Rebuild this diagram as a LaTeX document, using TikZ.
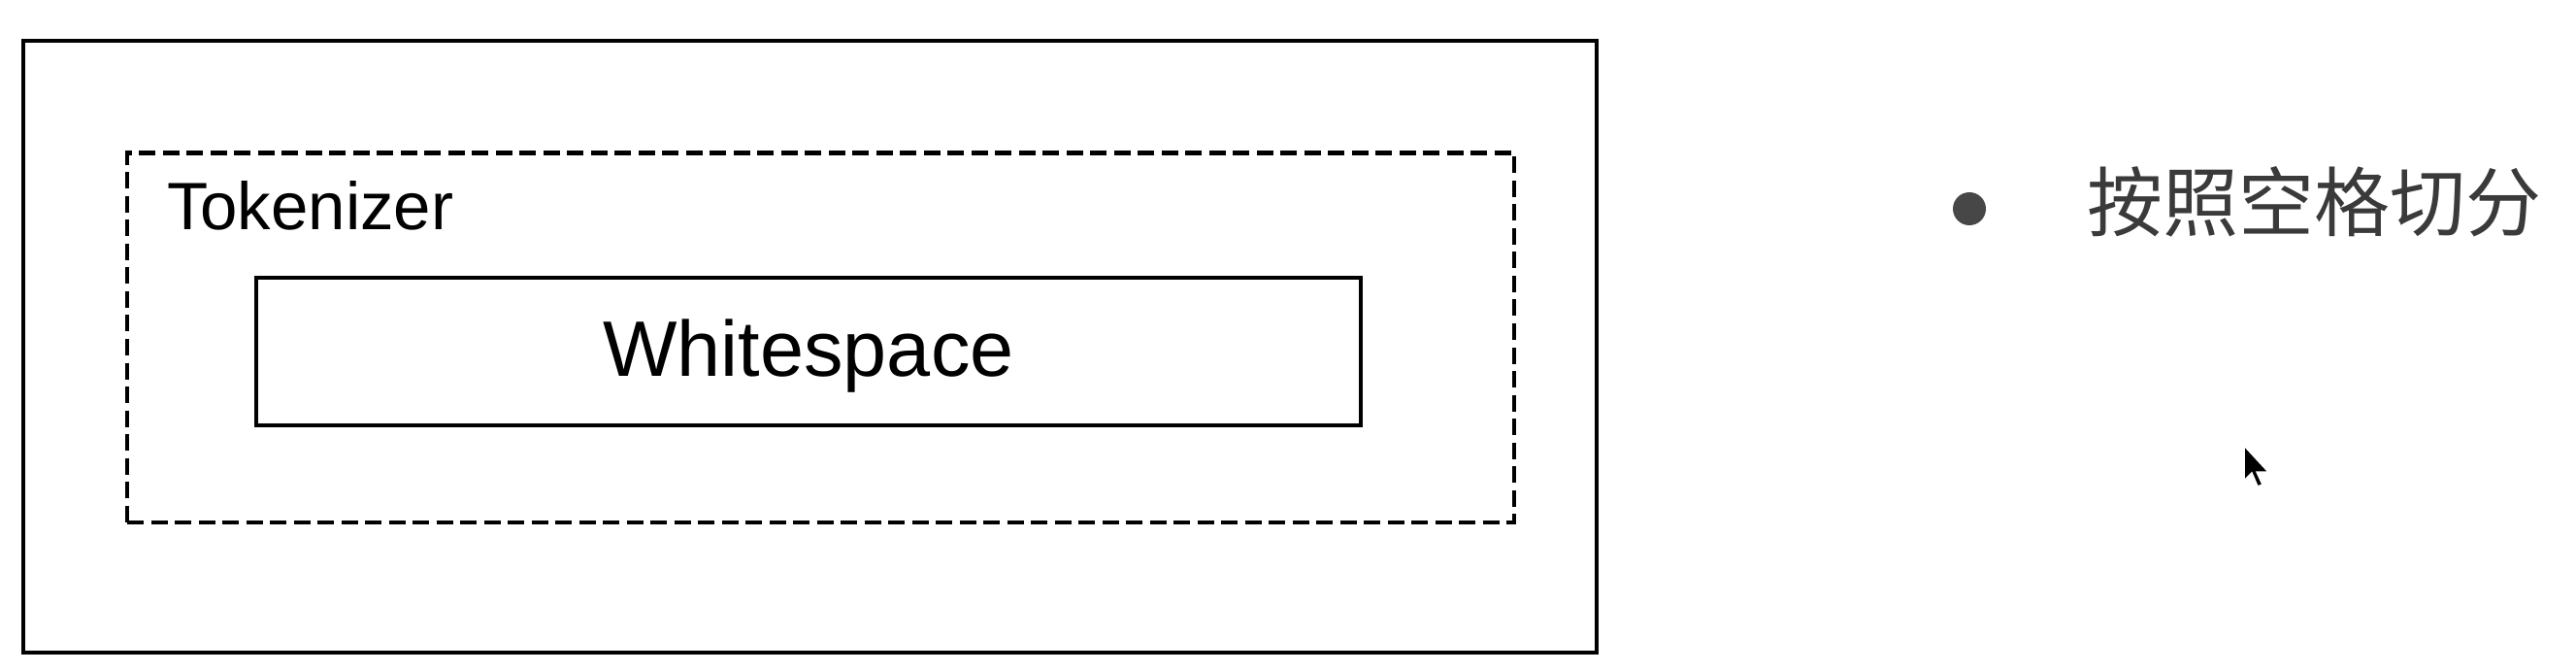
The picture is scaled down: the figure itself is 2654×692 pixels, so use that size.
\documentclass[tikz,border=0pt]{standalone}
\usepackage{fontspec}
\setmainfont{Liberation Sans}
\newfontfamily\cjk{Noto Sans CJK SC}
\definecolor{bulletgray}{HTML}{474747}
\definecolor{cjkgray}{HTML}{3A3A3A}
\begin{document}
\begin{tikzpicture}[x=1pt,y=-1pt,
  solidbox/.style={draw=black, line width=4.5pt, inner sep=0pt, outer sep=0pt},
  dashbox/.style={draw=black, line width=4.2pt, dash pattern=on 17pt off 7.5pt, inner sep=0pt, outer sep=0pt},
  lbl/.style={inner sep=0pt, outer sep=0pt, text=black}]
\path[fill=white, use as bounding box] (0,0) rectangle (2654,692);
\node[solidbox, minimum width=1621pt, minimum height=630pt] (outer) at (834.5,357) {};
\node[dashbox, minimum width=1429pt, minimum height=380.5pt] (tok) at (845.5,347.75) {};
\node[solidbox, minimum width=1138pt, minimum height=152pt] (ws) at (833,362) {};
\node[lbl, anchor=base west, font=\fontsize{69}{80}\selectfont] (toklabel) at (172,237) {Tokenizer};
\node[lbl, anchor=base, font=\fontsize{81}{95}\selectfont] (wslabel) at (833,387) {Whitespace};
\node[circle, fill=bulletgray, minimum size=34pt, inner sep=0pt] (bullet) at (2029,215) {};
\node[inner sep=0pt, anchor=base west, text=cjkgray, font=\cjk\fontsize{78}{90}\selectfont] (point) at (2150,238) {按照空格切分};
\coordinate (tip) at (2312,459);
\draw[fill=black, draw=white, line width=1.5pt, line join=miter]
  (tip) -- ++(0,36) -- ++(8,-8) -- ++(6,14) -- ++(5,-2) -- ++(-6,-13) -- ++(12,0) -- cycle;
\end{tikzpicture}
\end{document}
